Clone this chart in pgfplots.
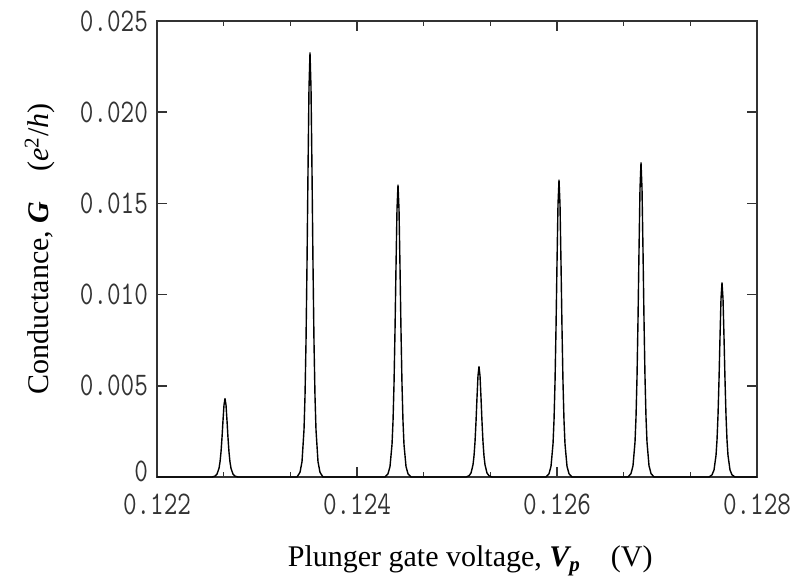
\documentclass[border=0pt]{standalone}
\usepackage{pgfplots}
\pgfplotsset{compat=1.18}
\usepackage{graphicx}
\usepackage{fontspec}
\setmainfont{Liberation Serif}
\newcommand\tl[1]{\scalebox{0.8}[1]{#1}}
\begin{document}
\begin{tikzpicture}
\begin{axis}[
  scale only axis, width=300pt, height=228pt,
  xmin=0.122, xmax=0.128, ymin=0, ymax=0.025,
  xtick={0.122,0.124,0.126,0.128},
  xticklabels={\tl{0.122},\tl{0.124},\tl{0.126},\tl{0.128}},
  ytick={0,0.005,0.010,0.015,0.020,0.025},
  yticklabels={\raisebox{6pt}{\tl{0}},\tl{0.005},\tl{0.010},\tl{0.015},\tl{0.020},\tl{0.025}},
  minor x tick num=2,
  scaled ticks=false,
  tick align=inside,
  major tick length=5pt, minor tick length=2.5pt,
  axis line style={line width=0.8pt, black!80},
  tick style={line width=0.8pt, black!80},
  /pgf/number format/assume math mode=true,
  ticklabel style={font=\ttfamily\fontsize{16.5}{18}\selectfont, text=black!80},
  xticklabel style={yshift=-5pt},
  yticklabel style={xshift=-1pt},
  xlabel={Plunger gate voltage, \textbf{\textit{V\textsubscript{p}}}\quad(V)},
  ylabel={Conductance, \textbf{\textit{G}}\quad(\textit{e}\textsuperscript{2}/\textit{h})},
  label style={font=\fontsize{15}{17}\selectfont},
  xlabel style={at={(axis description cs:0.522,-0.184)}, anchor=center},
  ylabel style={at={(axis description cs:-0.195,0.5)}, anchor=center},
]
\coordinate (bl) at (rel axis cs:0,0);
\coordinate (tr) at (rel axis cs:1,1);
\addplot[black, line width=0.7pt, line join=round] coordinates {
(0.12200,0) (0.12255,0)
(0.12258,0.0000473) (0.12260,0.000155) (0.12262,0.000477) (0.12263,0.000817) (0.12264,0.001363) (0.12265,0.00215) (0.12266,0.003096) (0.12267,0.003947)
(0.12268,0.0043)
(0.12269,0.003947) (0.12270,0.003096) (0.12271,0.00215) (0.12272,0.001363) (0.12273,0.000817) (0.12274,0.000477) (0.12276,0.000155) (0.12278,0.0000473)
(0.12281,0) (0.12340,0)
(0.12343,0.000256) (0.12345,0.000837) (0.12347,0.002582) (0.12348,0.004419) (0.12349,0.007373) (0.12350,0.01163) (0.12351,0.016747) (0.12352,0.021353)
(0.12353,0.02326)
(0.12354,0.021353) (0.12355,0.016747) (0.12356,0.01163) (0.12357,0.007373) (0.12358,0.004419) (0.12359,0.002582) (0.12361,0.000837) (0.12363,0.000256)
(0.12366,0) (0.12428,0)
(0.12431,0.000176) (0.12433,0.000576) (0.12435,0.001776) (0.12436,0.00304) (0.12437,0.005072) (0.12438,0.008) (0.12439,0.01152) (0.12440,0.014688)
(0.12441,0.016)
(0.12442,0.014688) (0.12443,0.01152) (0.12444,0.008) (0.12445,0.005072) (0.12446,0.00304) (0.12447,0.001776) (0.12449,0.000576) (0.12451,0.000176)
(0.12454,0) (0.12509,0)
(0.12512,0.0000666) (0.12514,0.000218) (0.12516,0.000672) (0.12517,0.00115) (0.12518,0.001918) (0.12519,0.003025) (0.12520,0.004356) (0.12521,0.005554)
(0.12522,0.00605)
(0.12523,0.005554) (0.12524,0.004356) (0.12525,0.003025) (0.12526,0.001918) (0.12527,0.00115) (0.12528,0.000672) (0.12530,0.000218) (0.12532,0.0000666)
(0.12535,0) (0.12589,0)
(0.12592,0.000179) (0.12594,0.000586) (0.12596,0.001807) (0.12597,0.003093) (0.12598,0.005161) (0.12599,0.00814) (0.12600,0.011722) (0.12601,0.014945)
(0.12602,0.01628)
(0.12603,0.014945) (0.12604,0.011722) (0.12605,0.00814) (0.12606,0.005161) (0.12607,0.003093) (0.12608,0.001807) (0.12610,0.000586) (0.12612,0.000179)
(0.12615,0) (0.12671,0)
(0.12674,0.00019) (0.12676,0.00062) (0.12678,0.001913) (0.12679,0.003274) (0.12680,0.005462) (0.12681,0.008615) (0.12682,0.012406) (0.12683,0.015817)
(0.12684,0.01723)
(0.12685,0.015817) (0.12686,0.012406) (0.12687,0.008615) (0.12688,0.005462) (0.12689,0.003274) (0.12690,0.001913) (0.12692,0.00062) (0.12694,0.00019)
(0.12697,0) (0.12752,0)
(0.12755,0.000117) (0.12757,0.000383) (0.12759,0.001182) (0.12760,0.002024) (0.12761,0.003376) (0.12762,0.005325) (0.12763,0.007668) (0.12764,0.009777)
(0.12765,0.01065)
(0.12766,0.009777) (0.12767,0.007668) (0.12768,0.005325) (0.12769,0.003376) (0.12770,0.002024) (0.12771,0.001182) (0.12773,0.000383) (0.12775,0.000117)
(0.12778,0) (0.12800,0)
};
\end{axis}
\pgfresetboundingbox
\useasboundingbox ([shift={(-78.5pt,-50.5pt)}]bl) rectangle ([shift={(27.5pt,10.5pt)}]tr);
\end{tikzpicture}
\end{document}
